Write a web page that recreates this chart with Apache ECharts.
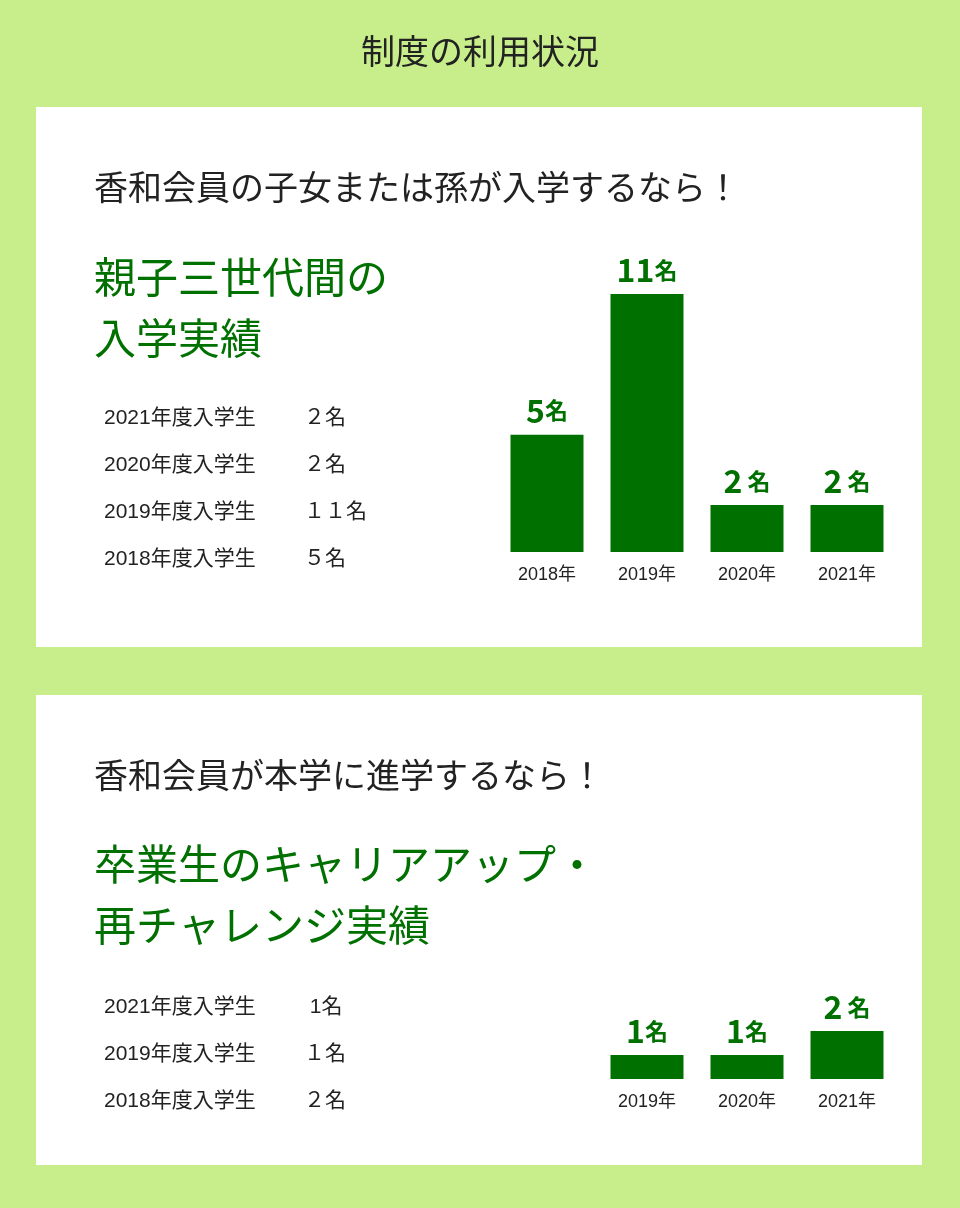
<!DOCTYPE html>
<html><head><meta charset="utf-8">
<script src="https://cdn.jsdelivr.net/npm/echarts@6/dist/echarts.min.js"></script>
<style>html,body{margin:0;padding:0;background:#c8ee8c}#c{width:960px;height:1208px}</style>
</head><body><div id="c"></div>
<script>
'use strict';
const years1 = ['2018年', '2019年', '2020年', '2021年'];
const counts1 = [5, 11, 2, 2];
const list1 = [['2021年度入学生', '２名'], ['2020年度入学生', '２名'], ['2019年度入学生', '１１名'], ['2018年度入学生', '５名']];
const years2 = ['2019年', '2020年', '2021年'];
const counts2 = [1, 1, 2];
const list2 = [['2021年度入学生', ' 1名'], ['2019年度入学生', '１名'], ['2018年度入学生', '２名']];

const green = '#007000';
const font = '"Noto Sans CJK JP", sans-serif';
const mixFont = '"Liberation Sans", "Noto Sans CJK JP", sans-serif';
const txt = (x, y, text, size, color, family) => ({
    type: 'text', left: x, top: y,
    style: { text, fontSize: size, fill: color || '#222', fontFamily: family || font, lineHeight: size * 1.45 }
});

const graphic = [
    { type: 'rect', shape: { x: 36, y: 107, width: 886, height: 540 }, style: { fill: '#fff' } },
    { type: 'rect', shape: { x: 36, y: 695, width: 886, height: 470 }, style: { fill: '#fff' } },
    { type: 'text', left: 'center', top: 34, style: { text: '制度の利用状況', fontSize: 34, fill: '#222', fontFamily: font } },
    txt(94, 162, '香和会員の子女または孫が入学するなら！', 34),
    txt(94, 247, '親子三世代間の\n入学実績', 42, green),
    txt(94, 750, '香和会員が本学に進学するなら！', 34),
    txt(94, 834, '卒業生のキャリアアップ・\n再チャレンジ実績', 42, green)
];
list1.forEach((s, i) => {
    graphic.push(txt(104, 403 + i * 47, s[0], 21, null, mixFont));
    graphic.push(txt(304, 403 + i * 47, s[1], 21, null, mixFont));
});
list2.forEach((s, i) => {
    graphic.push(txt(104, 992 + i * 47, s[0], 21, null, mixFont));
    graphic.push(txt(304, 992 + i * 47, s[1], 21, null, mixFont));
});

const label = {
    show: true, position: 'top', distance: 8,
    formatter: p => `{n|${p.value}}{u|${p.value === 2 ? ' ' : ''}名}`,
    rich: {
        n: { fontSize: 32, fontWeight: 'bold', color: green, fontFamily: font },
        u: { fontSize: 23, fontWeight: 'bold', color: green, fontFamily: font }
    }
};
const xAxis = (gi, data) => ({
    type: 'category', gridIndex: gi, data,
    axisLine: { show: false }, axisTick: { show: false },
    axisLabel: { fontSize: 18, color: '#222', fontFamily: mixFont, margin: 14 }
});
const yAxis = (gi, max) => ({ type: 'value', gridIndex: gi, min: 0, max, show: false, splitLine: { show: false } });

const chart = echarts.init(document.getElementById('c'));
chart.setOption({
    animation: false,
    graphic,
    grid: [
        { left: 497, top: 294, width: 400, height: 258 },
        { left: 597, top: 1031, width: 300, height: 48 }
    ],
    xAxis: [xAxis(0, years1), xAxis(1, years2)],
    yAxis: [yAxis(0, 11), yAxis(1, 2)],
    series: [
        { type: 'bar', xAxisIndex: 0, yAxisIndex: 0, data: counts1, barWidth: 73, itemStyle: { color: green }, label },
        { type: 'bar', xAxisIndex: 1, yAxisIndex: 1, data: counts2, barWidth: 73, itemStyle: { color: green }, label }
    ]
});
</script></body></html>
